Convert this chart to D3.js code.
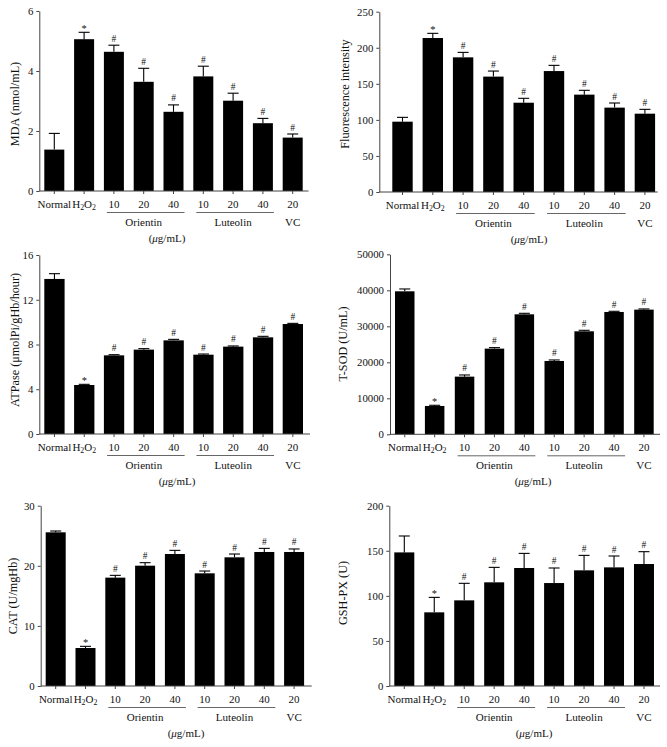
<!DOCTYPE html>
<html>
<head>
<meta charset="utf-8">
<script src="https://cdn.jsdelivr.net/npm/d3@7"></script>
<style>
  html, body { margin: 0; padding: 0; background: #fff; }
  svg { display: block; }
  text { font-family: "Liberation Serif", "DejaVu Serif", serif; fill: #111; }
</style>
</head>
<body>
<svg id="chart" width="667" height="747"></svg>
<script>
// ---- categories / tick labels ----
const categories = ["Normal", "H2O2", "Or10", "Or20", "Or40", "Lu10", "Lu20", "Lu40", "VC20"];
const tickLabels = ["Normal", "H2O2", "10", "20", "40", "10", "20", "40", "20"];
const groups = [
  { name: "Orientin", from: "Or10", to: "Or40", mid: "Or20" },
  { name: "Luteolin", from: "Lu10", to: "Lu40", mid: "Lu20" },
  { name: "VC", from: null, to: null, mid: "VC20" }
];
const significance = ["", "*", "#", "#", "#", "#", "#", "#", "#"];

// ---- series values (mean / upper error) ----
const mdaMean = [1.38, 5.06, 4.64, 3.64, 2.64, 3.82, 3.01, 2.26, 1.78];
const mdaErr  = [0.54, 0.23, 0.22, 0.45, 0.23, 0.34, 0.25, 0.16, 0.12];
const mdaTicks = [0, 2, 4, 6];

const fluoMean = [97.5, 213.5, 186.7, 160.0, 123.8, 167.7, 135.0, 117.0, 108.6];
const fluoErr  = [6.0, 6.5, 6.9, 7.7, 6.1, 7.9, 6.0, 6.4, 6.0];
const fluoTicks = [0, 50, 100, 150, 200, 250];

const atpMean = [13.86, 4.38, 7.03, 7.54, 8.37, 7.09, 7.81, 8.64, 9.83];
const atpErr  = [0.47, 0.06, 0.06, 0.09, 0.09, 0.06, 0.06, 0.09, 0.06];
const atpTicks = [0, 4, 8, 12, 16];

const sodMean = [39720, 7870, 16020, 23800, 33330, 20370, 28610, 33980, 34630];
const sodErr  = [650, 190, 460, 280, 280, 280, 280, 190, 190];
const sodTicks = [0, 10000, 20000, 30000, 40000, 50000];

const catMean = [25.57, 6.32, 18.03, 20.02, 21.96, 18.75, 21.41, 22.30, 22.30];
const catErr  = [0.22, 0.28, 0.38, 0.50, 0.61, 0.38, 0.55, 0.60, 0.50];
const catTicks = [0, 10, 20, 30];

const gshMean = [148.2, 81.7, 95.0, 115.0, 130.9, 114.2, 128.3, 131.6, 135.3];
const gshErr  = [18.2, 16.6, 18.9, 16.6, 16.2, 16.7, 16.6, 12.6, 13.7];
const gshTicks = [0, 50, 100, 150, 200];

// ---- panel layout ----
const panels = [
  { mean: mdaMean, err: mdaErr, ticks: mdaTicks, title: "MDA (nmol/mL)",
    axisX: 39.3, y0: 191, yTop: 11, first: 44.3, step: 29.8, bw: 20, end: 308.5,
    labelX: 15, labelY: 104, unitX: 167 },
  { mean: fluoMean, err: fluoErr, ticks: fluoTicks, title: "Fluorescence intensity",
    axisX: 379.3, y0: 192, yTop: 11.7, first: 392.3, step: 30.3, bw: 20.4, end: 657.7,
    labelX: 345, labelY: 94, unitX: 529 },
  { mean: atpMean, err: atpErr, ticks: atpTicks, title: "ATPase (\u03bcmolPi/gHb/hour)",
    axisX: 39.3, y0: 434, yTop: 255, first: 44.3, step: 29.8, bw: 20.3, end: 310,
    labelX: 15, labelY: 340, unitX: 177 },
  { mean: sodMean, err: sodErr, ticks: sodTicks, title: "T-SOD (U/mL)",
    axisX: 390, y0: 434.3, yTop: 254.3, first: 395, step: 29.9, bw: 19.5, end: 660,
    labelX: 343, labelY: 344, unitX: 533 },
  { mean: catMean, err: catErr, ticks: catTicks, title: "CAT (U/mgHb)",
    axisX: 40.7, y0: 686, yTop: 505.7, first: 45.7, step: 29.8, bw: 20, end: 311.7,
    labelX: 13, labelY: 596, unitX: 186 },
  { mean: gshMean, err: gshErr, ticks: gshTicks, title: "GSH-PX (U)",
    axisX: 389.3, y0: 686, yTop: 505.7, first: 394.3, step: 29.96, bw: 20, end: 660,
    labelX: 343, labelY: 593, unitX: 534 }
];

const svg = d3.select("#chart");
const axisColor = "#444";
const fs = 11;
const fsY = 10.8;
const fsTitle = 12.2;

panels.forEach(p => {
  const g = svg.append("g");
  const n = categories.length;
  const pad = 1 - p.bw / p.step;
  const x0 = p.first - (p.step - p.bw) / 2;
  const x = d3.scaleBand().domain(categories)
    .range([x0, x0 + n * p.step]).paddingInner(pad).paddingOuter(pad / 2);
  const y = d3.scaleLinear().domain([0, d3.max(p.ticks)]).range([p.y0, p.yTop]);

  // bars
  g.selectAll("rect.bar").data(categories).join("rect")
    .attr("x", c => x(c)).attr("width", x.bandwidth())
    .attr("y", (c, i) => y(p.mean[i]))
    .attr("height", (c, i) => p.y0 - y(p.mean[i]))
    .attr("fill", "#000");

  // error bars
  const eg = g.append("g").attr("stroke", "#000").attr("stroke-width", 1.1);
  categories.forEach((c, i) => {
    const cx = x(c) + x.bandwidth() / 2;
    const top = y(p.mean[i] + p.err[i]);
    eg.append("line").attr("x1", cx).attr("x2", cx).attr("y1", y(p.mean[i])).attr("y2", top);
    eg.append("line").attr("x1", cx - 5.5).attr("x2", cx + 5.5).attr("y1", top).attr("y2", top);
    if (significance[i]) {
      const star = significance[i] === "*";
      g.append("text").attr("x", cx).attr("y", top - (star ? 0.5 : 3.5))
        .attr("text-anchor", "middle")
        .style("font-size", star ? "10.5px" : "9.5px")
        .text(significance[i]);
    }
  });

  // y axis
  const ya = g.append("g").attr("transform", `translate(${p.axisX},0)`)
    .call(d3.axisLeft(y).tickValues(p.ticks).tickSize(3).tickSizeOuter(0).tickPadding(3)
      .tickFormat(d3.format("d")));
  ya.select(".domain").attr("stroke", axisColor);
  ya.selectAll(".tick line").attr("stroke", axisColor);
  ya.selectAll(".tick text").style("font-size", fsY + "px")
    .style("font-family", '"Liberation Serif", serif').attr("fill", "#111");

  // x axis
  const xa = g.append("g").attr("transform", `translate(0,${p.y0})`)
    .call(d3.axisBottom(x).tickSize(3).tickSizeOuter(0).tickPadding(5).tickFormat(() => ""));
  xa.select(".domain").remove();
  xa.selectAll(".tick line").attr("stroke", axisColor);
  g.append("line").attr("x1", p.axisX).attr("x2", p.end).attr("y1", p.y0).attr("y2", p.y0)
    .attr("stroke", axisColor).attr("stroke-width", 1);

  // tick labels
  categories.forEach((c, i) => {
    const cx = x(c) + x.bandwidth() / 2;
    const t = g.append("text").attr("x", cx).attr("y", p.y0 + 17)
      .attr("text-anchor", "middle").style("font-size", fs + "px");
    if (tickLabels[i] === "H2O2") {
      t.append("tspan").text("H");
      t.append("tspan").text("2").style("font-size", "7.8px").attr("dy", 2);
      t.append("tspan").text("O").attr("dy", -2);
      t.append("tspan").text("2").style("font-size", "7.8px").attr("dy", 2);
    } else {
      t.text(tickLabels[i]);
    }
  });

  // group underline + names
  groups.forEach(gr => {
    const mx = x(gr.mid) + x.bandwidth() / 2;
    if (gr.from) {
      const a = x(gr.from) + x.bandwidth() / 2 - 7;
      const b = x(gr.to) + x.bandwidth() / 2 + 11;
      g.append("line").attr("x1", a).attr("x2", b)
        .attr("y1", p.y0 + 21.5).attr("y2", p.y0 + 21.5)
        .attr("stroke", "#666").attr("stroke-width", 1);
    }
    g.append("text").attr("x", mx).attr("y", p.y0 + 34.5)
      .attr("text-anchor", "middle").style("font-size", fs + "px").text(gr.name);
  });

  // unit label
  const u = g.append("text").attr("x", p.unitX).attr("y", p.y0 + 51)
    .attr("text-anchor", "middle").style("font-size", fs + "px");
  u.append("tspan").text("(");
  u.append("tspan").text("\u03bc").style("font-style", "italic");
  u.append("tspan").text("g/mL)");

  // y title
  g.append("text")
    .attr("transform", `translate(${p.labelX},${p.labelY}) rotate(-90)`)
    .attr("text-anchor", "middle").attr("dominant-baseline", "central")
    .style("font-size", fsTitle + "px").text(p.title);
});
</script>
</body>
</html>
